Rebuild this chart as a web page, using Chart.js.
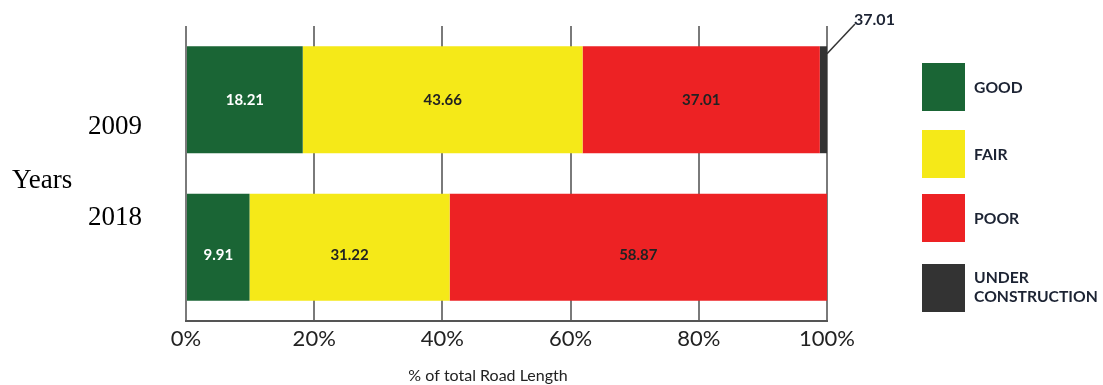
<!DOCTYPE html>
<html>
<head>
<meta charset="utf-8">
<script src="https://cdn.jsdelivr.net/npm/chart.js@4/dist/chart.umd.min.js"></script>
<style>
  html, body { margin: 0; padding: 0; background: #fff; }
  #wrap { width: 1103px; height: 385px; position: relative; }
</style>
</head>
<body>
<div id="wrap"><canvas id="chart"></canvas></div>
<script>
const years = ['2009', '2018'];
const good = [18.21, 9.91];
const fair = [43.66, 31.22];
const poor = [37.01, 58.87];
const underConstruction = [1.12, 0];
const xTicks = [0, 20, 40, 60, 80, 100];
// the source labels the thin 2009 segment with this (misprinted) value
const calloutText = '37.01';

const seriesNames = ['GOOD', 'FAIR', 'POOR', 'UNDER CONSTRUCTION'];
const colors = ['#1a6535', '#f5e918', '#ed2224', '#333333'];

const overlay = {
  id: 'overlay',
  afterDatasetsDraw(chart) {
    const ctx = chart.ctx;
    const x = chart.scales.x;
    const y = chart.scales.y;
    ctx.save();

    // values inside the segments
    ctx.font = 'bold 15px Lato';
    ctx.textAlign = 'center';
    ctx.textBaseline = 'middle';
    [0, 1, 2].forEach(di => {
      const meta = chart.getDatasetMeta(di);
      meta.data.forEach((bar, i) => {
        const v = chart.data.datasets[di].data[i];
        if (!v) return;
        ctx.fillStyle = di === 0 ? '#ffffff' : '#222222';
        ctx.fillText(v.toFixed(2), (bar.x + bar.base) / 2, bar.y + (i === 1 ? 8 : 0));
      });
    });

    // callout for the under-construction sliver
    const end = x.getPixelForValue(100);
    const top = chart.getDatasetMeta(3).data[0];
    ctx.strokeStyle = '#333';
    ctx.lineWidth = 1.5;
    ctx.beginPath();
    ctx.moveTo(end, top.y - 46);
    ctx.lineTo(end + 28, 24);
    ctx.stroke();
    ctx.fillStyle = '#1c2333';
    ctx.font = 'bold 16px Lato';
    ctx.textAlign = 'left';
    ctx.fillText(calloutText, end + 27, 20);

    // x axis title (sits a little left of the axis centre in the source)
    ctx.fillStyle = '#222';
    ctx.font = '16px Lato';
    ctx.textAlign = 'center';
    ctx.fillText('% of total Road Length', 488, 376);

    // year labels and axis title
    ctx.fillStyle = '#000';
    ctx.font = '27px "Liberation Serif"';
    ctx.fillText(years[0], 115, y.getPixelForValue(0) + 27);
    ctx.fillText(years[1], 115, y.getPixelForValue(1) - 29);
    ctx.textAlign = 'left';
    ctx.fillText('Years', 12, 181);

    // legend
    const boxes = [63, 130, 194, 264];
    ctx.font = 'bold 15.7px Lato';
    ctx.textBaseline = 'middle';
    seriesNames.forEach((name, i) => {
      ctx.fillStyle = colors[i];
      ctx.fillRect(922, boxes[i], 43, 48);
      ctx.fillStyle = '#1c2333';
      if (i === 3) {
        ctx.fillText('UNDER', 974, 278);
        ctx.fillText('CONSTRUCTION', 974, 297);
      } else {
        ctx.fillText(name, 974, boxes[i] + 25);
      }
    });
    ctx.restore();
  }
};

new Chart(document.getElementById('chart'), {
  type: 'bar',
  data: {
    labels: years,
    datasets: [good, fair, poor, underConstruction].map((d, i) => ({
      label: seriesNames[i],
      data: d,
      backgroundColor: colors[i],
      borderWidth: 0,
      categoryPercentage: 0.725,
      barPercentage: 1
    }))
  },
  options: {
    indexAxis: 'y',
    responsive: true,
    maintainAspectRatio: false,
    animation: false,
    layout: { padding: { left: 0, right: 276, top: 26, bottom: 0 } },
    plugins: {
      legend: { display: false },
      tooltip: { enabled: false }
    },
    scales: {
      x: {
        stacked: true,
        min: 0,
        max: 100,
        afterBuildTicks: (scale) => { scale.ticks = xTicks.map(v => ({ value: v })); },
        afterFit: (scale) => { scale.height = 64; },
        grid: { color: '#7a7a7a', lineWidth: 2, drawTicks: false },
        border: { display: true, color: '#555', width: 2 },
        ticks: {
          padding: 5,
          color: '#222',
          font: { family: 'Lato', size: 22 },
          callback: (v) => v + '%'
        }
      },
      y: {
        stacked: true,
        afterFit: (scale) => { scale.width = 186; },
        grid: { display: false },
        border: { display: false },
        ticks: { display: false }
      }
    }
  },
  plugins: [overlay]
});
</script>
</body>
</html>
